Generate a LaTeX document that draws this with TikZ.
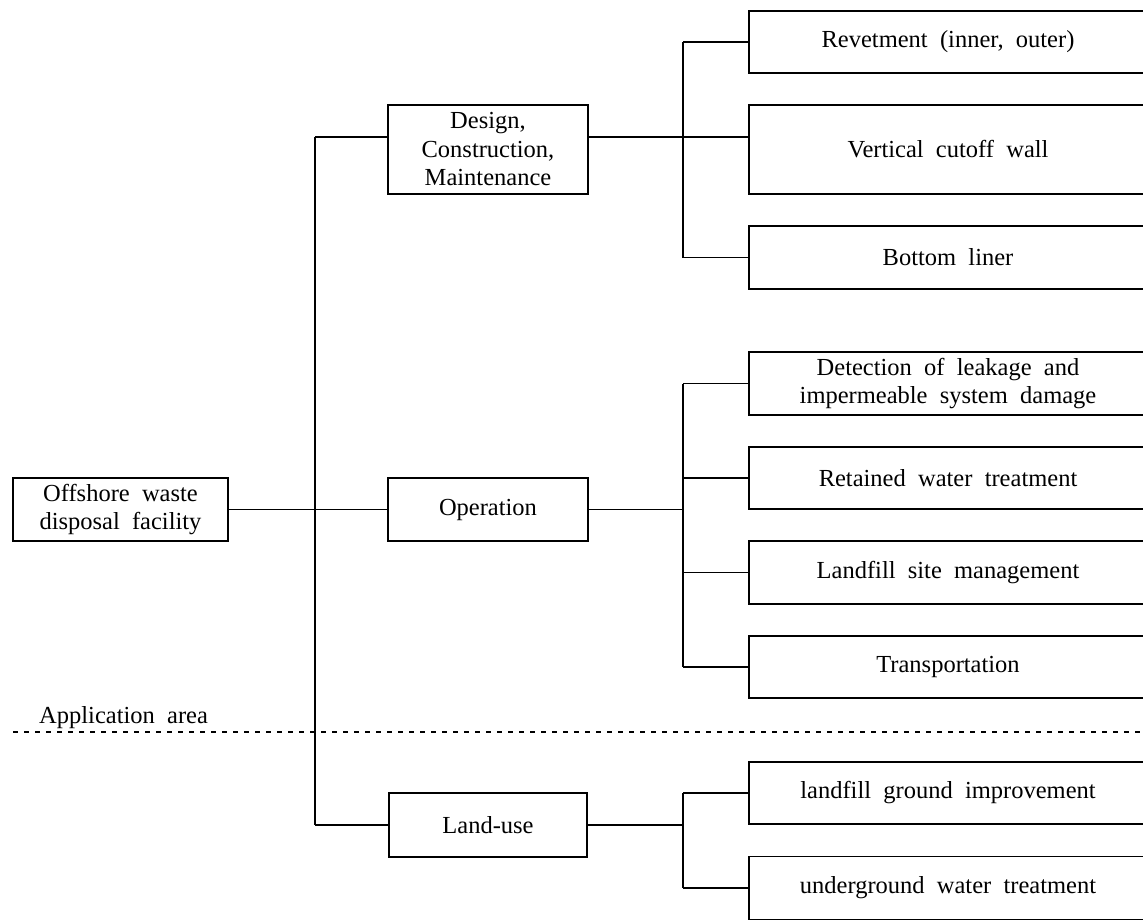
\documentclass[tikz,border=0pt]{standalone}
\usepackage{fontspec}
\setmainfont{Liberation Serif}
\newcommand{\diagfont}{\fontsize{24.5}{28.5}\selectfont\spaceskip=0.5em\relax}
\begin{document}
\begin{tikzpicture}[x=1pt,y=-1pt,
  every node/.style={font=\diagfont, inner sep=0pt},
  box/.style={draw, line width=1.2pt, align=center},
  leaf/.style={box, minimum width=398pt},
  conn/.style={line width=1.2pt},
  sep/.style={line width=2.2pt, dash pattern=on 5pt off 6pt}]
\clip (0,0) rectangle (1143,919);
% level 0 and 1
\node[box, minimum width=215pt, minimum height=63pt] (root) at (120.5,509.5) {Offshore waste\\disposal facility};
\node[box, minimum width=200pt, minimum height=89pt] (design) at (488,149.5) {Design,\\Construction,\\Maintenance};
\node[box, minimum width=200pt, minimum height=63pt] (oper) at (488,509.5) {Operation};
\node[box, minimum width=198pt, minimum height=64pt] (land) at (488,825) {Land-use};
% leaves
\node[leaf, minimum height=62pt] (rev) at (948,42) {Revetment (inner, outer)};
\node[leaf, minimum height=89pt] (vcw) at (948,149.5) {Vertical cutoff wall};
\node[leaf, minimum height=63pt] (bl) at (948,257.5) {Bottom liner};
\node[leaf, minimum height=63pt] (det) at (948,383.5) {Detection of leakage and\\impermeable system damage};
\node[leaf, minimum height=62pt] (ret) at (948,478) {Retained water treatment};
\node[leaf, minimum height=63pt] (lsm) at (948,572.5) {Landfill site management};
\node[leaf, minimum height=62pt] (tr) at (948,667) {Transportation};
\node[leaf, minimum height=62pt] (lgi) at (948,793) {landfill ground improvement};
\node[leaf, minimum height=63pt] (uwt) at (948,888) {underground water treatment};
% junctions
\coordinate (sTop) at (315,137);
\coordinate (sMid) at (315,509.5);
\coordinate (sBot) at (315,825);
\coordinate (dTop) at (683,42);
\coordinate (dMid) at (683,137);
\coordinate (dBot) at (683,257.5);
\coordinate (oTop) at (683,383.5);
\coordinate (oMid) at (683,509.5);
\coordinate (oBot) at (683,667);
\coordinate (lTop) at (683,793);
\coordinate (lMid) at (683,825);
\coordinate (lBot) at (683,888);
% main spine
\draw[conn] (root.east) -- (sMid) -- (oper.west);
\draw[conn] (sTop) -- (sBot);
\draw[conn] (sTop) -- (sTop -| design.west);
\draw[conn] (sBot) -- (land.west);
% design branch
\draw[conn] (design.east |- dMid) -- (dMid);
\draw[conn] (dTop) -- (dBot);
\draw[conn] (dTop) -- (rev.west);
\draw[conn] (dMid) -- (dMid -| vcw.west);
\draw[conn] (dBot) -- (bl.west);
% operation branch
\draw[conn] (oper.east) -- (oMid);
\draw[conn] (oTop) -- (oBot);
\draw[conn] (oTop) -- (det.west);
\draw[conn] (ret.west -| oTop) -- (ret.west);
\draw[conn] (lsm.west -| oTop) -- (lsm.west);
\draw[conn] (oBot) -- (tr.west);
% land-use branch
\draw[conn] (land.east) -- (lMid);
\draw[conn] (lTop) -- (lBot);
\draw[conn] (lTop) -- (lgi.west);
\draw[conn] (lBot) -- (uwt.west);
% application area
\coordinate (aL) at (13,732);
\coordinate (aR) at (1143,732);
\draw[sep] (aL) -- (aR);
\node[anchor=base west] (app) at (39,723) {Application area};
\end{tikzpicture}
\end{document}
